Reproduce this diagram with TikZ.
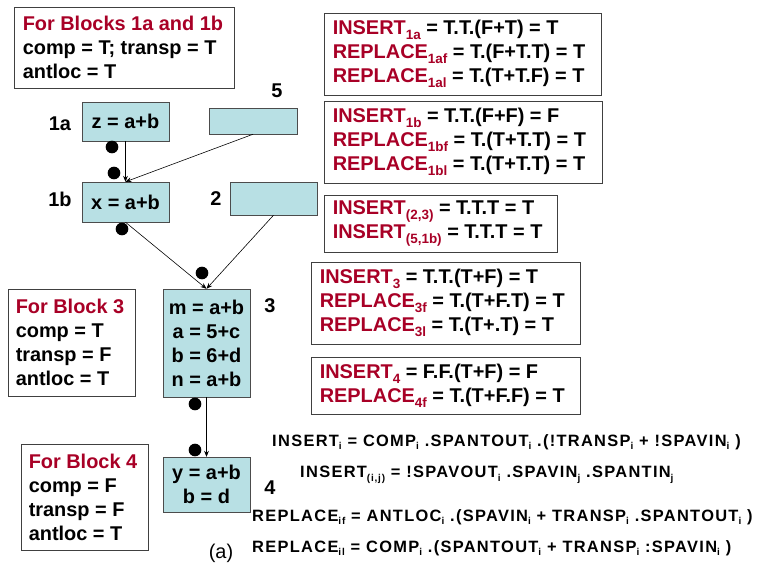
\documentclass[tikz,border=0pt]{standalone}
\usepackage{fontspec}
\setmainfont{Liberation Sans}
\newfontfamily\eqfont{Liberation Sans}[LetterSpace=8]
\usetikzlibrary{arrows.meta}

\definecolor{blockred}{RGB}{168,0,38}
\definecolor{blockfill}{RGB}{184,224,228}
\newcommand{\sbs}[1]{\raisebox{-0.45ex}{\fontsize{11.5}{11.5}\selectfont #1}}
\newcommand{\insrt}[1]{\textcolor{blockred}{INSERT\sbs{#1}}}
\newcommand{\repl}[1]{\textcolor{blockred}{REPLACE\sbs{#1}}}
\newcommand{\lsub}[1]{\raisebox{-0.45ex}{\fontsize{8.5}{8.5}\selectfont #1}}

\begin{document}
\begin{tikzpicture}[x=0.03cm,y=-0.03cm,
    blk/.style={draw=black!70,fill=blockfill,inner sep=0pt,align=center,
      minimum width=2.61cm,font=\bfseries\fontsize{17}{20.5}\selectfont},
    infobox/.style={draw=black!75,line width=0.8pt,inner sep=0pt},
    infotext/.style={anchor=west,inner sep=0pt,align=left,
      font=\bfseries\fontsize{17}{20.5}\selectfont},
    lbl/.style={font=\bfseries\fontsize{17}{20}\selectfont},
    eqn/.style={anchor=west,inner sep=0pt,font=\eqfont\bfseries\fontsize{14}{15}\selectfont},
    flow/.style={-{Stealth[length=5pt,width=4pt]},line width=0.5pt}]
    \useasboundingbox (0,0) rectangle (758,579);

    % flow graph blocks
    \node[blk,minimum height=1.17cm] (a1) at (125.5,121.5) {z = a+b};
    \node[blk,minimum width=2.64cm,minimum height=0.78cm] (b5) at (253,121) {};
    \node[blk,minimum height=1.2cm] (b1) at (125.5,202) {x = a+b};
    \node[blk,minimum height=0.99cm] (b2) at (273.5,198.5) {};
    \node[blk,minimum height=3.24cm] (b3) at (206.5,343) {m = a+b\\a = 5+c\\b = 6+d\\n = a+b};
    \node[blk,minimum height=1.65cm] (b4) at (206.5,484.5) {y = a+b\\b = d};

    % block numbers
    \node[lbl] (l1a) at (60,124) {1a};
    \node[lbl] (l1b) at (60,199) {1b};
    \node[lbl] (l5) at (277,91) {5};
    \node[lbl] (l2) at (216,199) {2};
    \node[lbl] (l3) at (270,306) {3};
    \node[lbl] (l4) at (270,488) {4};
    \node[font=\fontsize{17}{20}\selectfont] (cap) at (221,553) {(a)};

    % edges
    \draw[flow] (a1.south) -- (b1.north);
    \draw[flow] (b5.south) -- (b1.north);
    \draw[flow] (b1.south) -- (b3.north);
    \draw[flow] (b2.south) -- (b3.north);
    \draw[flow] (b3.south) -- (b4.north);

    % insertion points
    \foreach \p in {(112,147),(114,173),(122,229),(202,273),(195,404),(195,450)}
      \fill \p circle (0.19cm);

    % local properties
    \node[infobox,minimum width=6.6cm,minimum height=2.43cm] (p1) at (124,47.5) {};
    \node[infotext] (p1t) at ([xshift=0.27cm]p1.west)
      {\textcolor{blockred}{For Blocks 1a and 1b}\\comp = T; transp = T\\antloc = T};
    \node[infobox,minimum width=3.81cm,minimum height=3.21cm] (p3) at (71.5,342.5) {};
    \node[infotext] (p3t) at ([xshift=0.24cm]p3.west)
      {\textcolor{blockred}{For Block 3}\\comp = T\\transp = F\\antloc = T};
    \node[infobox,minimum width=3.81cm,minimum height=3.18cm] (p4) at (84.5,497) {};
    \node[infotext] (p4t) at ([xshift=0.24cm]p4.west)
      {\textcolor{blockred}{For Block 4}\\comp = F\\transp = F\\antloc = T};

    % evaluated predicates
    \node[infobox,minimum width=8.31cm,minimum height=2.46cm] (r1) at (462.5,54) {};
    \node[infotext] (r1t) at ([xshift=0.27cm]r1.west)
      {\insrt{1a} = T.T.(F+T) = T\\\repl{1af} = T.(F+T.T) = T\\\repl{1al} = T.(T+T.F) = T};
    \node[infobox,minimum width=8.34cm,minimum height=2.46cm] (r2) at (463,142) {};
    \node[infotext] (r2t) at ([xshift=0.27cm]r2.west)
      {\insrt{1b} = T.T.(F+F) = F\\\repl{1bf} = T.(T+T.T) = T\\\repl{1bl} = T.(T+T.T) = T};
    \node[infobox,minimum width=6.99cm,minimum height=1.71cm] (r3) at (440.5,223.5) {};
    \node[infotext] (r3t) at ([xshift=0.27cm]r3.west)
      {\insrt{(2,3)} = T.T.T = T\\\insrt{(5,1b)} = T.T.T = T};
    \node[infobox,minimum width=8.07cm,minimum height=2.46cm] (r4) at (445.5,303) {};
    \node[infotext] (r4t) at ([xshift=0.27cm]r4.west)
      {\insrt{3} = T.T.(T+F) = T\\\repl{3f} = T.(T+F.T) = T\\\repl{3l} = T.(T+.T) = T};
    \node[infobox,minimum width=8.07cm,minimum height=1.71cm] (r5) at (445.5,385.5) {};
    \node[infotext] (r5t) at ([xshift=0.27cm]r5.west)
      {\insrt{4} = F.F.(T+F) = F\\\repl{4f} = T.(T+F.F) = T};

    % general equations
    \node[eqn] (e1) at (272,442) {INSERT\lsub{i} = COMP\lsub{i} .SPANTOUT\lsub{i} .(!TRANSP\lsub{i} + !SPAVIN\lsub{i} )};
    \node[eqn] (e2) at (300,475) {INSERT\lsub{(i,j)} = !SPAVOUT\lsub{i} .SPAVIN\lsub{j} .SPANTIN\lsub{j}};
    \node[eqn] (e3) at (252,517) {REPLACE\lsub{if} = ANTLOC\lsub{i} .(SPAVIN\lsub{i} + TRANSP\lsub{i} .SPANTOUT\lsub{i} )};
    \node[eqn] (e4) at (252,548) {REPLACE\lsub{il} = COMP\lsub{i} .(SPANTOUT\lsub{i} + TRANSP\lsub{i} :SPAVIN\lsub{i} )};
\end{tikzpicture}
\end{document}
